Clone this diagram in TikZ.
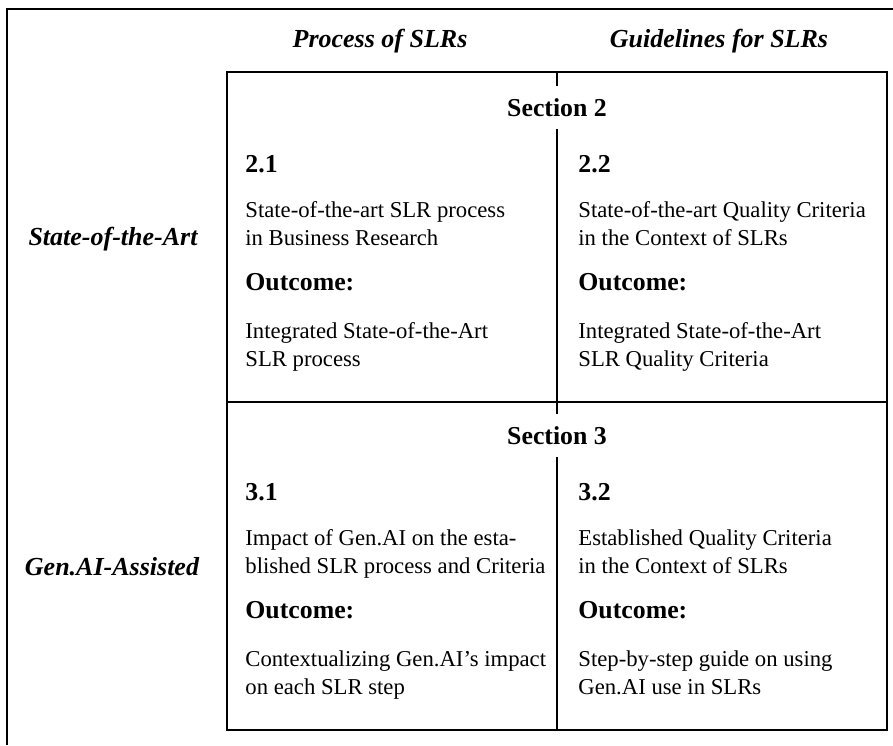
\documentclass[tikz,border=0pt]{standalone}
\usepackage{fontspec}
\setmainfont{Liberation Serif}
\usetikzlibrary{positioning}

\begin{document}
\begin{tikzpicture}[
  x=0.5pt, y=-0.5pt,
  head/.style={font=\fontsize{13}{15}\selectfont\bfseries\itshape, anchor=base, inner sep=0pt},
  sec/.style={font=\fontsize{12.9}{15}\selectfont\bfseries, minimum height=21.5pt, inner sep=0pt},
  num/.style={font=\fontsize{12.9}{15}\selectfont\bfseries, anchor=base west, inner sep=0pt},
  txt/.style={font=\fontsize{11.35}{14}\selectfont, align=left, anchor=base west, inner sep=0pt},
  grid/.style={line width=1pt}
]
\useasboundingbox (0,0) rectangle (893,745);
\draw[line width=0.75pt] (7,745) -- (7,9) -- (893,9);

% column and row headers
\node[head] (proc) at (380,47) {Process of SLRs};
\node[head] (guide) at (719,47) {Guidelines for SLRs};
\node[head] (sota) at (113,245) {State-of-the-Art};
\node[head] (genai) at (112,575) {Gen.AI-Assisted};

% grid
\draw[grid] (227,72) rectangle (887,730);
\draw[grid] (227,402) -- (887,402);
\coordinate (vtop) at (557,72);
\coordinate (vmid) at (557,402);
\coordinate (vbot) at (557,730);
\node[sec] (sec2) at (557,107.5) {Section 2};
\node[sec] (sec3) at (557,435.5) {Section 3};
\draw[grid] (vtop) -- (sec2);
\draw[grid] (sec2) -- (vmid);
\draw[grid] (vmid) -- (sec3);
\draw[grid] (sec3) -- (vbot);

% section 2 (two-line texts sit on their last baseline)
\node[num] (n21) at (245,172) {2.1};
\node[txt] (t21) at (245,245) {State-of-the-art SLR process\\in Business Research};
\node[num] (o21) at (245,290) {Outcome:};
\node[txt] (r21) at (245,366) {Integrated State-of-the-Art\\SLR process};

\node[num] (n22) at (578,172) {2.2};
\node[txt] (t22) at (578,245) {State-of-the-art Quality Criteria\\in the Context of SLRs};
\node[num] (o22) at (578,290) {Outcome:};
\node[txt] (r22) at (578,366) {Integrated State-of-the-Art\\SLR Quality Criteria};

% section 3
\node[num] (n31) at (245,500) {3.1};
\node[txt] (t31) at (245,573) {Impact of Gen.AI on the esta-\\blished SLR process and Criteria};
\node[num] (o31) at (245,618) {Outcome:};
\node[txt] (r31) at (245,694) {Contextualizing Gen.AI’s impact\\on each SLR step};

\node[num] (n32) at (578,500) {3.2};
\node[txt] (t32) at (578,573) {Established Quality Criteria\\in the Context of SLRs};
\node[num] (o32) at (578,618) {Outcome:};
\node[txt] (r32) at (578,694) {Step-by-step guide on using\\Gen.AI use in SLRs};
\end{tikzpicture}
\end{document}
